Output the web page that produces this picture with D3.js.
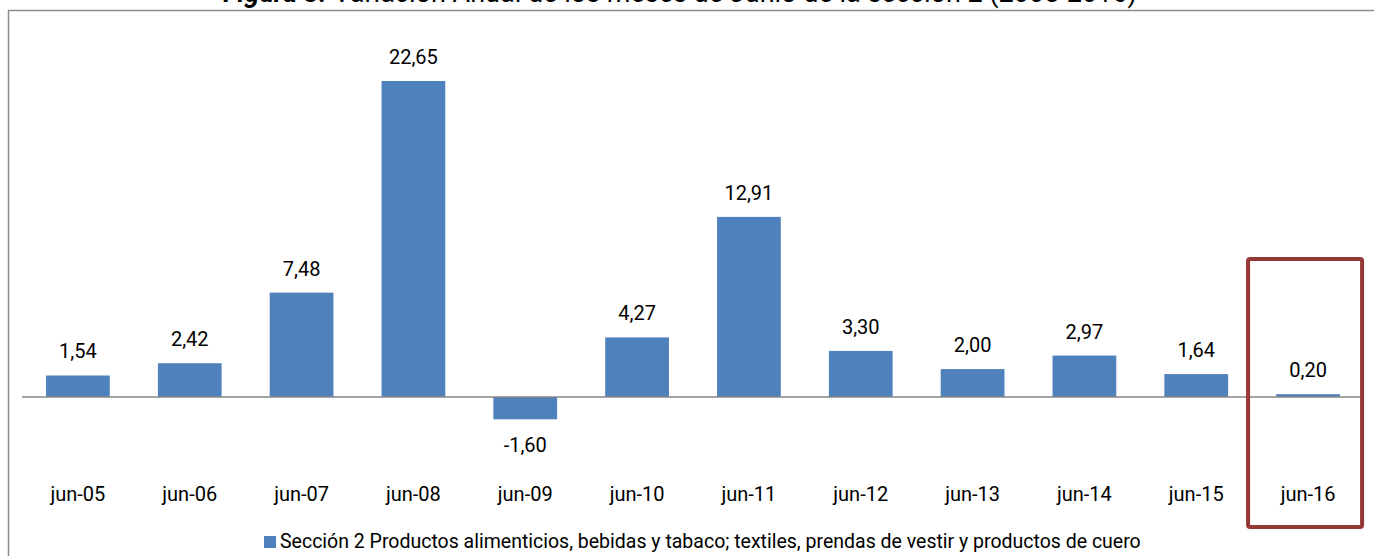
<!DOCTYPE html>
<html>
<head>
<meta charset="utf-8">
<script src="https://cdn.jsdelivr.net/npm/d3@7"></script>
<style>
  body { margin: 0; background: #fff; }
  svg { display: block; font-family: Roboto, "Open Sans", sans-serif; }
</style>
</head>
<body>
<div id="chart"></div>
<script>
var categories = ["jun-05", "jun-06", "jun-07", "jun-08", "jun-09", "jun-10",
  "jun-11", "jun-12", "jun-13", "jun-14", "jun-15", "jun-16"];
var values = [1.54, 2.42, 7.48, 22.65, -1.60, 4.27, 12.91, 3.30, 2.00, 2.97, 1.64, 0.20];
var seriesName = "Sección 2 Productos alimenticios, bebidas y tabaco; textiles, prendas de vestir y productos de cuero";
var highlighted = "jun-16";

var W = 1374, H = 556;
var numFormat = d3.format(".2f");
var fmt = function(v) { return numFormat(v).replace("−", "-").replace(".", ","); };

var svg = d3.select("#chart").append("svg")
  .attr("width", W)
  .attr("height", H);

// title, cut off by the top edge as in the source
var title = svg.append("text")
  .attr("x", 680)
  .attr("y", 2)
  .attr("text-anchor", "middle")
  .attr("font-size", 27)
  .attr("fill", "#000");
title.append("tspan").attr("font-weight", "bold").attr("font-style", "italic").text("Figura 3. ");
title.append("tspan").text("Variación Anual de los meses de Junio de la sección 2  (2005-2016)");

// frame
svg.append("path")
  .attr("d", "M8.5," + H + "V10.5H" + W)
  .attr("fill", "none")
  .attr("stroke", "#8c8c8c")
  .attr("stroke-width", 1.5);

var x = d3.scaleBand()
  .domain(categories)
  .range([22, 1364])
  .paddingInner(0.43)
  .paddingOuter(0.215);

var y = d3.scaleLinear()
  .domain([-1.60, 22.65])
  .range([419.3, 81]);

// bars
svg.append("g").selectAll("rect")
  .data(values)
  .enter().append("rect")
    .attr("x", function(d, i) { return x(categories[i]); })
    .attr("width", x.bandwidth())
    .attr("y", function(d) { return y(Math.max(0, d)); })
    .attr("height", function(d) { return Math.abs(y(d) - y(0)); })
    .attr("fill", "#4f81bd");

// zero line
svg.append("line")
  .attr("x1", 22).attr("x2", 1364)
  .attr("y1", y(0)).attr("y2", y(0))
  .attr("stroke", "#868686")
  .attr("stroke-width", 1.5);

// value labels
svg.append("g").selectAll("text")
  .data(values)
  .enter().append("text")
    .attr("x", function(d, i) { return x(categories[i]) + x.bandwidth() / 2; })
    .attr("y", function(d) { return d >= 0 ? y(d) - 17 : y(d) + 33; })
    .attr("text-anchor", "middle")
    .attr("font-size", 20)
    .attr("fill", "#000")
    .text(fmt);

// category axis labels
var xAxis = svg.append("g")
  .attr("transform", "translate(0,487)")
  .call(d3.axisBottom(x).tickSize(0).tickPadding(0));
xAxis.select(".domain").remove();
xAxis.selectAll("text")
  .attr("font-size", 20)
  .attr("font-family", "Roboto, sans-serif")
  .attr("fill", "#000");

// highlight box
var hx = x(highlighted) + x.bandwidth() / 2;
svg.append("rect")
  .attr("x", hx - 60)
  .attr("y", 259)
  .attr("width", 114)
  .attr("height", 268)
  .attr("rx", 2)
  .attr("fill", "none")
  .attr("stroke", "#953735")
  .attr("stroke-width", 4);

// legend
var legend = svg.append("g").attr("transform", "translate(264,535)");
legend.append("rect")
  .attr("y", 1)
  .attr("width", 12).attr("height", 12)
  .attr("fill", "#4f81bd");
legend.append("text")
  .attr("x", 16)
  .attr("y", 13)
  .attr("font-size", 19.5)
  .attr("fill", "#000")
  .text(seriesName);
</script>
</body>
</html>
